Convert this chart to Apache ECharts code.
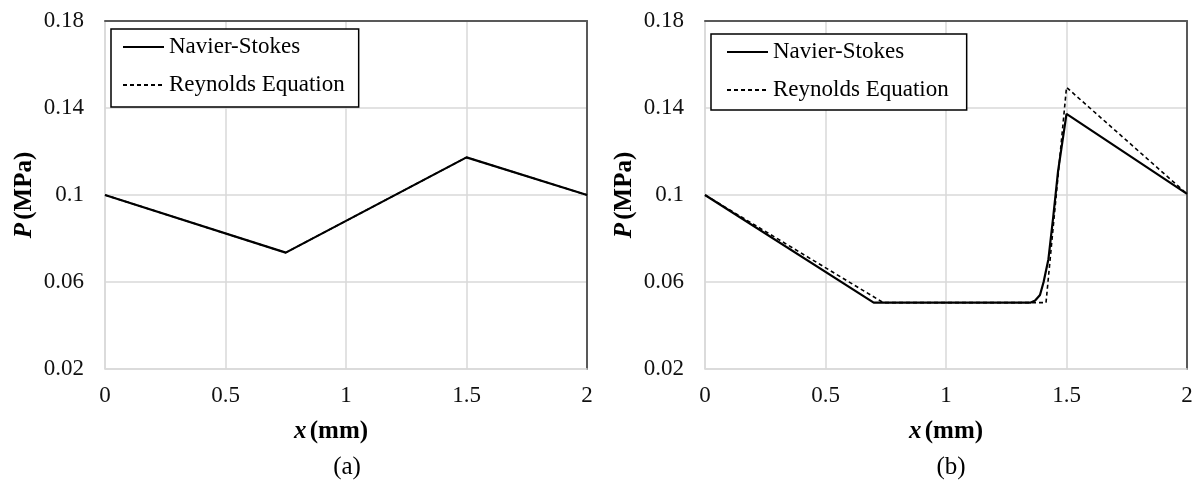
<!DOCTYPE html>
<html>
<head>
<meta charset="utf-8">
<script src="https://cdn.jsdelivr.net/npm/echarts@6/dist/echarts.min.js"></script>
<style>
html,body{margin:0;padding:0;background:#fff;}
#chart{width:1200px;height:481px;}
</style>
</head>
<body>
<div id="chart"></div>
<script>
// ---- data ----
const seriesNames = ['Navier-Stokes', 'Reynolds Equation'];
const xTickLabels = ['0', '0.5', '1', '1.5', '2'];
const yTickLabels = ['0.02', '0.06', '0.1', '0.14', '0.18'];
// panel (a)
const aNS_x = [0, 0.75, 1.5, 2];
const aNS_y = [0.1, 0.0735, 0.1173, 0.1];
const aRE_x = [0, 0.75, 1.5, 2];
const aRE_y = [0.1, 0.0735, 0.1173, 0.1];
// panel (b)
const bNS_x = [0, 0.70, 1.35, 1.37, 1.39, 1.405, 1.425, 1.445, 1.465, 1.50, 2];
const bNS_y = [0.1, 0.0505, 0.0505, 0.0515, 0.054, 0.060, 0.0705, 0.090, 0.111, 0.1373, 0.1005];
const bRE_x = [0, 0.74, 1.415, 1.50, 2];
const bRE_y = [0.1, 0.0505, 0.0505, 0.1495, 0.1005];

const pairs = (xs, ys) => xs.map((x, i) => [x, ys[i]]);

const FONT = '"Liberation Serif", "Times New Roman", serif';
const GRIDC = '#d9d9d9';
const BORDERC = '#595959';

function xAxisFor(gi, nameShift) {
  return [{
    type: 'value', gridIndex: gi, min: 0, max: 2, interval: 0.5,
    position: 'bottom',
    axisLine: { show: true, onZero: false, lineStyle: { color: GRIDC, width: 1.5 } },
    axisTick: { show: false },
    splitLine: { show: true, lineStyle: { color: GRIDC, width: 1.5 } },
    axisLabel: {
      margin: 15, color: '#111', fontFamily: FONT, fontSize: 23,
      formatter: v => xTickLabels[Math.round(v / 0.5)]
    },
    name: '{i|x} {b|(mm)}', nameLocation: 'middle', nameGap: 50,
    nameTextStyle: {
      padding: [0, nameShift, 0, 0],
      rich: {
        i: { fontFamily: FONT, fontSize: 25, fontStyle: 'italic', fontWeight: 'bold', color: '#000' },
        b: { fontFamily: FONT, fontSize: 25, fontWeight: 'bold', color: '#000' }
      }
    }
  }, {
    type: 'value', gridIndex: gi, min: 0, max: 2, interval: 0.5,
    position: 'top',
    axisLine: { show: true, onZero: false, lineStyle: { color: BORDERC, width: 2 } },
    axisTick: { show: false }, axisLabel: { show: false }, splitLine: { show: false }
  }];
}
function yAxisFor(gi) {
  return [{
    type: 'value', gridIndex: gi, min: 0.02, max: 0.18, interval: 0.04,
    position: 'left',
    axisLine: { show: true, onZero: false, lineStyle: { color: GRIDC, width: 1.5 } },
    axisTick: { show: false },
    splitLine: { show: true, lineStyle: { color: GRIDC, width: 1.5 } },
    axisLabel: {
      margin: 21, color: '#111', fontFamily: FONT, fontSize: 23,
      formatter: v => yTickLabels[Math.round((v - 0.02) / 0.04)]
    },
    name: '{i|P} {b|(MPa)}', nameLocation: 'middle', nameGap: 68, nameRotate: 90,
    nameTextStyle: {
      rich: {
        i: { fontFamily: FONT, fontSize: 25, fontStyle: 'italic', fontWeight: 'bold', color: '#000' },
        b: { fontFamily: FONT, fontSize: 25, fontWeight: 'bold', color: '#000' }
      }
    }
  }, {
    type: 'value', gridIndex: gi, min: 0.02, max: 0.18, interval: 0.04,
    position: 'right',
    axisLine: { show: true, onZero: false, lineStyle: { color: BORDERC, width: 2 } },
    axisTick: { show: false }, axisLabel: { show: false }, splitLine: { show: false }
  }];
}

function legendFor(left, top, padding) {
  return {
    data: seriesNames, orient: 'vertical', left: left, top: top,
    padding: padding, itemGap: 12, itemWidth: 41, itemHeight: 14,
    borderColor: '#000', borderWidth: 1.5, backgroundColor: '#fff',
    selectedMode: false,
    itemStyle: { opacity: 0 },
    textStyle: { fontFamily: FONT, fontSize: 23, color: '#000', lineHeight: 26 }
  };
}

const dashed = { color: '#000', width: 1.6, type: [4, 3] };
const solid = { color: '#000', width: 2.2, type: 'solid' };

const option = {
  backgroundColor: '#fff',
  animation: false,
  color: ['#000', '#000'],
  grid: [
    { left: 105, top: 21, width: 482, height: 348, containLabel: false },
    { left: 705, top: 21, width: 482, height: 348, containLabel: false }
  ],
  xAxis: [...xAxisFor(0, 30), ...xAxisFor(1, 0)],
  yAxis: [...yAxisFor(0), ...yAxisFor(1)],
  legend: [
    legendFor(111, 29, [5, 14, 9, 11]),
    legendFor(711, 34, [5, 18, 7, 15])
  ],
  title: [
    { text: '(a)', left: 342, top: 450, textAlign: 'center',
      textStyle: { fontFamily: FONT, fontSize: 25, fontWeight: 'normal', color: '#000' } },
    { text: '(b)', left: 946, top: 450, textAlign: 'center',
      textStyle: { fontFamily: FONT, fontSize: 25, fontWeight: 'normal', color: '#000' } }
  ],
  series: [
    { name: seriesNames[1], type: 'line', xAxisIndex: 0, yAxisIndex: 0, symbol: 'none',
      itemStyle: { color: '#000' }, data: pairs(aRE_x, aRE_y), lineStyle: dashed, z: 2 },
    { name: seriesNames[0], type: 'line', xAxisIndex: 0, yAxisIndex: 0, symbol: 'none',
      itemStyle: { color: '#000' }, data: pairs(aNS_x, aNS_y), lineStyle: solid, z: 3 },
    { name: seriesNames[1], type: 'line', xAxisIndex: 2, yAxisIndex: 2, symbol: 'none',
      itemStyle: { color: '#000' }, data: pairs(bRE_x, bRE_y), lineStyle: dashed, z: 2 },
    { name: seriesNames[0], type: 'line', xAxisIndex: 2, yAxisIndex: 2, symbol: 'none',
      itemStyle: { color: '#000' }, data: pairs(bNS_x, bNS_y), lineStyle: solid, z: 3 }
  ]
};

const chart = echarts.init(document.getElementById('chart'), null, { renderer: 'canvas' });
chart.setOption(option);
</script>
</body>
</html>
